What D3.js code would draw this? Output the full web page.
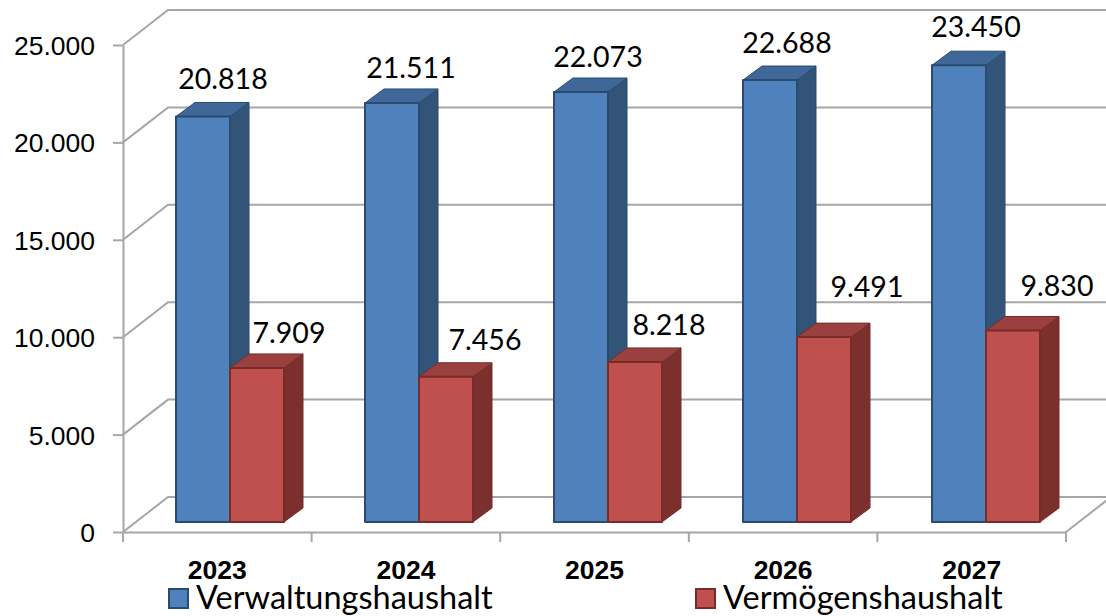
<!DOCTYPE html>
<html><head><meta charset="utf-8"/>
<title>Haushalt</title>
<script src="https://d3js.org/d3.v7.min.js"></script>
<style>
  html, body { margin: 0; padding: 0; background: #fff; }
  svg { display: block; font-family: Lato, "Open Sans", sans-serif; }
</style>
</head>
<body>
<div id="chart"></div>
<script>
// values
const years = ["2023", "2024", "2025", "2026", "2027"];
const seriesNames = ["Verwaltungshaushalt", "Vermögenshaushalt"];
const verwaltung = [20818, 21511, 22073, 22688, 23450];
const vermoegen = [7909, 7456, 8218, 9491, 9830];
const yTicks = [0, 5000, 10000, 15000, 20000, 25000];

const width = 1106, height = 616;
const plotLeft = 123, plotRight = 1066, plotBottom = 532, plotTop = 45;
const wallDx = 45, wallDy = 35;     // depth of the chart box
const barDy = 10;                   // where bars stand on the floor
const sideDx = 19, sideDy = 14;     // depth of a bar

const colors = [
  { front: "#4f81bd", top: "#3f6797", side: "#325479", line: "#2a4a70" },
  { front: "#c0504d", top: "#9a403e", side: "#7b302e", line: "#772c2a" }
];
const gridColor = "#a6a6a6";

// label nudges, the labels do not sit evenly above the bars
const labelNudge = [
  [[20, -37], [19, -35], [17, -35], [17, -37], [17, -38]],
  [[32, -35], [39, -37], [34, -37], [43, -50], [44, -44]]
];

const fmt = d3.formatLocale({ decimal: ",", thousands: ".", grouping: [3], currency: ["", ""] }).format(",");

const x = d3.scaleBand().domain(years).range([plotLeft, plotRight]);
const y = d3.scaleLinear().domain([0, 25000]).range([plotBottom, plotTop]);
// bars are on the floor of the box, so they run on a slightly wider step than the axis
const xBar = d3.scaleBand().domain(years).range([135.5, 1080.5]);
const sub = d3.scaleBand().domain(d3.range(2)).range([-54, 54]);

const svg = d3.select("#chart").append("svg")
  .attr("width", width).attr("height", height);

// walls and floor
const grid = svg.append("g").attr("fill", "none").attr("stroke", gridColor).attr("stroke-width", 2);
yTicks.forEach(v => {
  grid.append("path").attr("d", d3.line()([
    [plotLeft, y(v)], [plotLeft + wallDx, y(v) - wallDy], [width, y(v) - wallDy]
  ]));
});
grid.append("path").attr("d", d3.line()([
  [plotRight, plotBottom], [plotRight + wallDx, plotBottom - wallDy]
]));

// axes
const yAxis = svg.append("g").attr("transform", `translate(${plotLeft},0)`)
  .call(d3.axisLeft(y).tickValues(yTicks).tickFormat(fmt).tickSize(10).tickSizeOuter(0).tickPadding(18));
const xAxis = svg.append("g").attr("transform", `translate(0,${plotBottom})`)
  .call(d3.axisBottom(x).tickSize(0).tickPadding(28));
xAxis.selectAll(".tick").append("line")
  .attr("x1", x.step() / 2).attr("x2", x.step() / 2).attr("y2", 10);
xAxis.append("line").attr("x1", plotLeft).attr("x2", plotLeft).attr("y2", 10);
svg.selectAll(".domain, .tick line").attr("stroke", gridColor).attr("stroke-width", 2);
xAxis.selectAll("line").attr("stroke", gridColor).attr("stroke-width", 2);
yAxis.selectAll("text").attr("font-size", 26.5).attr("fill", "#000").attr("dy", "0.36em");
xAxis.selectAll("text").attr("font-size", 26.5).attr("font-weight", 700).attr("fill", "#000");

// bars
const base = y(0) - barDy;
const barH = v => y(0) - y(v);
const bars = svg.append("g");
[verwaltung, vermoegen].forEach((values, s) => {
  const c = colors[s];
  const g = bars.selectAll(null).data(values).enter().append("g")
    .attr("stroke", c.line).attr("stroke-width", 2).attr("stroke-linejoin", "round");
  const x0 = (d, i) => xBar(years[i]) + xBar.bandwidth() / 2 + sub(s);
  const x1 = (d, i) => x0(d, i) + sub.bandwidth();
  const yt = d => base - barH(d);
  g.append("polygon").attr("fill", c.side).attr("stroke-width", 1).attr("points", (d, i) => [
    [x1(d, i), yt(d)], [x1(d, i) + sideDx, yt(d) - sideDy],
    [x1(d, i) + sideDx, base - sideDy], [x1(d, i), base]
  ].join(" "));
  g.append("polygon").attr("fill", c.top).attr("stroke-width", 1).attr("points", (d, i) => [
    [x0(d, i), yt(d)], [x0(d, i) + sideDx, yt(d) - sideDy],
    [x1(d, i) + sideDx, yt(d) - sideDy], [x1(d, i), yt(d)]
  ].join(" "));
  g.append("rect").attr("fill", c.front)
    .attr("x", x0).attr("y", yt)
    .attr("width", sub.bandwidth()).attr("height", d => barH(d));
  g.append("text")
    .attr("x", (d, i) => x0(d, i) + sub.bandwidth() / 2 + labelNudge[s][i][0])
    .attr("y", (d, i) => yt(d) + labelNudge[s][i][1])
    .attr("dy", "0.35em").attr("text-anchor", "middle")
    .attr("font-size", 28.5).attr("fill", "#000").attr("stroke", "none")
    .text(d => fmt(d));
});

// legend
const legendX = [168, 695];
const legend = svg.selectAll(".legend").data(seriesNames).enter().append("g")
  .attr("class", "legend")
  .attr("transform", (d, i) => `translate(${legendX[i]},588)`);
legend.append("rect").attr("x", 1).attr("y", 1).attr("width", 19).attr("height", 19)
  .attr("fill", (d, i) => colors[i].front).attr("stroke", (d, i) => colors[i].line).attr("stroke-width", 2);
legend.append("text").attr("x", 28).attr("y", 10).attr("dy", "0.35em")
  .attr("font-size", 32.5).attr("fill", "#000").text(d => d);
</script>
</body></html>
